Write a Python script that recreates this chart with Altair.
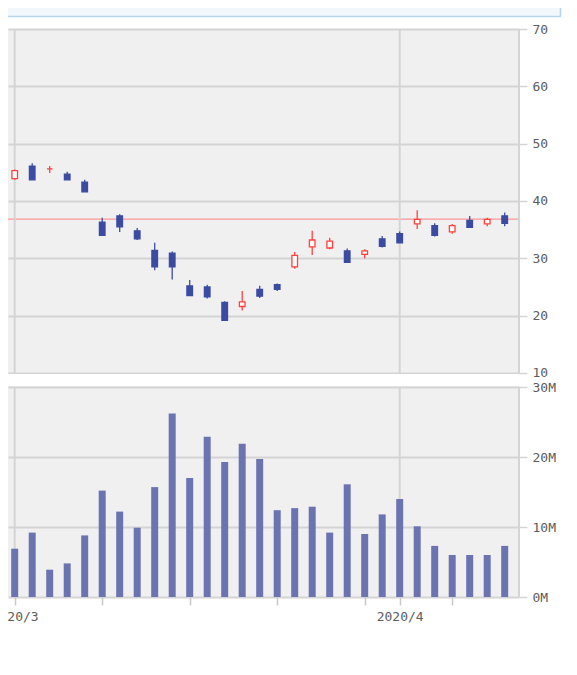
import altair as alt
import pandas as pd

# ---------------- data ----------------
dates = ["2020-02-28",
         "2020-03-02", "2020-03-03", "2020-03-04", "2020-03-05", "2020-03-06",
         "2020-03-09", "2020-03-10", "2020-03-11", "2020-03-12", "2020-03-13",
         "2020-03-16", "2020-03-17", "2020-03-18", "2020-03-19", "2020-03-20",
         "2020-03-23", "2020-03-24", "2020-03-25", "2020-03-26", "2020-03-27",
         "2020-03-30", "2020-03-31", "2020-04-01", "2020-04-02", "2020-04-03",
         "2020-04-06", "2020-04-07", "2020-04-08", "2020-04-09"]
opens = [43.0, 43.9, 46.1, 45.6, 44.7, 43.3, 36.3, 37.4, 34.8, 31.4,
         30.9, 25.2, 25.0, 22.3, 21.6, 24.6, 25.4, 28.5, 32.0, 31.8,
         31.3, 30.7, 33.4, 34.3, 36.0, 35.7, 34.6, 36.6, 36.0, 37.4]
highs = [45.0, 45.5, 46.6, 46.1, 45.1, 43.7, 37.1, 37.7, 35.3, 32.7,
         31.2, 26.2, 25.4, 22.5, 24.3, 25.2, 25.6, 31.1, 34.8, 33.6,
         31.7, 31.6, 33.9, 34.7, 38.4, 36.1, 36.0, 37.4, 37.1, 38.0]
lows = [42.7, 43.7, 43.7, 44.9, 43.7, 41.6, 34.0, 34.6, 33.2, 27.9,
        26.3, 23.5, 23.0, 19.2, 20.9, 23.1, 24.3, 28.2, 30.6, 31.6,
        29.3, 30.0, 31.9, 32.7, 35.1, 33.8, 34.3, 35.4, 35.6, 35.6]
closes = [44.7, 45.3, 43.7, 45.6, 43.7, 41.6, 34.0, 35.5, 33.4, 28.5,
          28.5, 23.5, 23.3, 19.2, 22.4, 23.4, 24.6, 30.5, 33.2, 33.0,
          29.3, 31.3, 32.1, 32.7, 36.8, 34.0, 35.7, 35.4, 36.8, 36.1]
volumes_m = [10.5, 6.9, 9.2, 3.9, 4.8, 8.8, 15.2, 12.2, 9.9, 15.7,
             26.2, 17.0, 22.9, 19.3, 21.9, 19.7, 12.4, 12.7, 12.9, 9.2,
             16.1, 9.0, 11.8, 14.0, 10.1, 7.3, 6.0, 6.0, 6.0, 7.3]
ref_price = 36.85
price_ticks = [10, 20, 30, 40, 50, 60, 70]
volume_ticks = [0, 10e6, 20e6, 30e6]

# ---------------- table ----------------
d = pd.to_datetime(pd.Series(dates))
first = next(k for k in range(1, len(d)) if d[k].month != d[k - 1].month)
df = pd.DataFrame({"date": dates, "open": opens, "high": highs, "low": lows,
                   "close": closes, "volume": [v * 1e6 for v in volumes_m]})
df["i"] = [k - first for k in range(len(dates))]
df["dir"] = ["up" if c >= o else "down" for o, c in zip(opens, closes)]

month_idx, month_lab, tick_idx = [], [], []
for k in range(first, len(d)):
    if k == first or d[k].month != d[k - 1].month:
        month_idx.append(k - first)
        month_lab.append(f"{d[k].year}/{d[k].month}")
        tick_idx.append(k - first)
    elif d[k].weekday() == 0:
        tick_idx.append(k - first)
label_expr = " : ".join(f"datum.value == {v} ? '{t}'" for v, t in zip(month_idx, month_lab)) + " : ''"
months = pd.DataFrame({"i": month_idx})

# ---------------- style ----------------
W, H = 511, 568
RED, BLUE, VOLC = "#ff4040", "#3b4ba2", "#6b74b1"
GRID, REF, LBL = "#d4d4d4", "#ff9696", "#5c5c5c"
FONT = "DejaVu Sans Mono"
one = alt.Data(values=[{}])

XS = alt.Scale(domain=[-0.383, 28.817], nice=False, zero=False, padding=0)
PS = alt.Scale(domain=[-29.07, 70], nice=False, zero=False)
VS = alt.Scale(domain=[0, 81.143e6], nice=False, zero=False)

x_enc = alt.X("i:Q", scale=XS, axis=alt.Axis(
    values=tick_idx, labelExpr=label_expr, grid=False, domain=False,
    tickSize=8, tickColor="#c8c8c8", tickWidth=1.5, labelPadding=5,
    labelFlush=False, labelOverlap=False, title=None,
    labelFont=FONT, labelFontSize=13, labelColor=LBL))

price_axis = alt.Axis(orient="right", values=price_ticks, format="d", grid=True,
                      gridColor=GRID, gridWidth=2, domain=False, tickSize=8,
                      tickColor=GRID, tickWidth=1.5, labelPadding=5, title=None,
                      labelFont=FONT, labelFontSize=13, labelColor=LBL)
vol_axis = alt.Axis(orient="right", values=volume_ticks,
                    labelExpr="format(datum.value / 1000000, 'd') + 'M'", grid=True,
                    gridColor=GRID, gridWidth=2, domain=False, tickSize=8,
                    tickColor=GRID, tickWidth=1.5, labelPadding=5, title=None,
                    labelFont=FONT, labelFontSize=13, labelColor=LBL)

# reference line (carries price axis + grid)
ref = alt.Chart(pd.DataFrame({"v": [ref_price]})).mark_rule(color=REF, strokeWidth=1.3).encode(
    y=alt.Y("v:Q", scale=PS, axis=price_axis))

gap = alt.Chart(one).mark_rect(fill="white").encode(
    x=alt.value(0), x2=alt.value(W), y=alt.value(345), y2=alt.value(357))

mon_up = alt.Chart(months).mark_rule(color=GRID, strokeWidth=2).encode(
    x=x_enc, y=alt.Y(datum=max(price_ticks), type="quantitative", scale=PS, axis=None),
    y2=alt.Y2(datum=min(price_ticks)))
mon_lo = alt.Chart(months).mark_rule(color=GRID, strokeWidth=2).encode(
    x=x_enc, y=alt.Y(datum=max(volume_ticks), type="quantitative", scale=VS, axis=None),
    y2=alt.Y2(datum=min(volume_ticks)))

border_up = alt.Chart(one).mark_rule(color=GRID, strokeWidth=2).encode(
    x=alt.value(W), y=alt.Y(datum=max(price_ticks), type="quantitative", scale=PS, axis=None),
    y2=alt.Y2(datum=min(price_ticks)))
border_lo = alt.Chart(one).mark_rule(color=GRID, strokeWidth=2).encode(
    x=alt.value(W), y=alt.Y(datum=max(volume_ticks), type="quantitative", scale=VS, axis=None),
    y2=alt.Y2(datum=min(volume_ticks)))

vol = alt.Chart(df).mark_bar(width=7, color=VOLC, clip=True).encode(
    x=x_enc, y=alt.Y("volume:Q", scale=VS, axis=vol_axis))

wick = alt.Chart(df).mark_rule(strokeWidth=1.3, clip=True).encode(
    x=x_enc, y=alt.Y("low:Q", scale=PS, axis=None), y2="high:Q",
    color=alt.Color("dir:N", scale=alt.Scale(domain=["up", "down"], range=[RED, BLUE]), legend=None))

body = alt.Chart(df).mark_bar(width=5.6, strokeWidth=1.3, clip=True).encode(
    x=x_enc, y=alt.Y("open:Q", scale=PS, axis=None), y2="close:Q",
    fill=alt.Fill("dir:N", scale=alt.Scale(domain=["up", "down"], range=["#ffffff", BLUE]), legend=None),
    stroke=alt.Stroke("dir:N", scale=alt.Scale(domain=["up", "down"], range=[RED, BLUE]), legend=None))

hdr = alt.Chart(one).mark_rect(fill="#f2f7fc").encode(
    x=alt.value(0), x2=alt.value(553), y=alt.value(-21), y2=alt.value(-12.5))
hdr_b = alt.Chart(one).mark_rule(color="#b6d5ee", strokeWidth=1.6).encode(
    x=alt.value(0), x2=alt.value(553), y=alt.value(-12.5))
hdr_r = alt.Chart(one).mark_rule(color="#b6d5ee", strokeWidth=1.6).encode(
    x=alt.value(552.5), y=alt.value(-21), y2=alt.value(-12.5))

chart = alt.layer(
    ref, gap, mon_up, mon_lo, border_up, border_lo, vol, wick, body, hdr, hdr_b, hdr_r
).resolve_scale(y="independent").properties(
    width=W, height=H,
    autosize=alt.AutoSizeParams(type="none"),
    padding={"left": 0, "top": 21, "right": 45, "bottom": 33},
    background="white",
).configure_view(stroke=None, fill="#f0f0f0")

chart.save("out.html", embed_options={"renderer": "svg", "actions": False})
